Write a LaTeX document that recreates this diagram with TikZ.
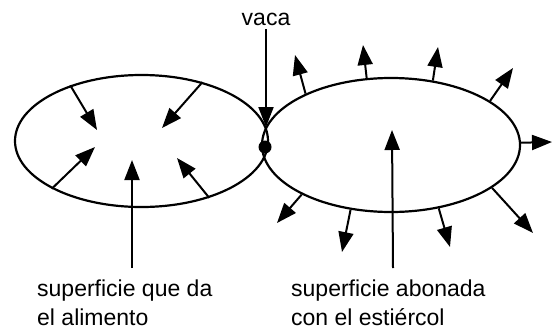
\documentclass[tikz,border=0pt]{standalone}
\usepackage{fontspec}
\setmainfont{Liberation Sans}
\usetikzlibrary{arrows.meta,shapes.geometric}
\begin{document}
\begin{tikzpicture}[x=1pt,y=1pt,
  field/.style={ellipse,draw,line width=2.2pt,inner sep=0pt},
  flow/.style={line width=2pt,-{Triangle[length=20pt,width=15pt]}},
  lbl/.style={font=\fontsize{23}{28.5}\selectfont,align=left,inner sep=0pt}]
\useasboundingbox (0,0) rectangle (553,333);
% fields
\node[field,minimum width=253pt,minimum height=132pt] (L) at (141.5,192) {};
\node[field,minimum width=258pt,minimum height=134pt] (R) at (391,188) {};
% cow
\node[circle,fill,inner sep=0pt,minimum size=13pt] (cow) at (265,186) {};
\node[font=\fontsize{23}{28}\selectfont,inner sep=0pt,anchor=base] (vaca) at (266,308) {vaca};
\coordinate (vtip) at (266,206);
\draw[flow] (vaca.south) ++(0,-4) coordinate (vs) -- (vtip);
% left field tips
\coordinate (l1) at (97,203);
\coordinate (l2) at (162,205);
\coordinate (l3) at (95,186);
\coordinate (l5) at (177,175);
\coordinate (l4) at (132,173);
\coordinate (l4s) at (132,65);
\draw[flow] (L.142.9) -- (l1);
\draw[flow] (L.44) -- (l2);
\draw[flow] (L.208.4) -- (l3);
\draw[flow] (L.320) -- (l5);
\draw[flow] (l4s) -- (l4);
% right field tips
\coordinate (r1) at (295,278);
\coordinate (r2) at (363,288);
\coordinate (r3) at (438,286);
\coordinate (r4) at (513,265);
\coordinate (r5) at (552,191);
\coordinate (r6) at (533,100);
\coordinate (r7) at (450,86);
\coordinate (r8) at (342,81);
\coordinate (r9) at (277,110);
\coordinate (rc) at (392,203);
\coordinate (rcs) at (393,65);
\draw[flow] (R.149.4) -- (r1);
\draw[flow] (R.110.4) -- (r2);
\draw[flow] (R.57.7) -- (r3);
\draw[flow] (R.24.3) -- (r4);
\draw[flow] (R.1) -- (r5);
\draw[flow] (R.337.8) -- (r6);
\draw[flow] (R.307.8) -- (r7);
\draw[flow] (R.238.7) -- (r8);
\draw[flow] (R.209.7) -- (r9);
\draw[flow] (rcs) -- (rc);
% labels
\node[lbl,anchor=north west] (tl) at (37,53) {superficie que da\\el alimento};
\node[lbl,anchor=north west] (tr) at (291,53) {superficie abonada\\con el estiércol};
\end{tikzpicture}
\end{document}
